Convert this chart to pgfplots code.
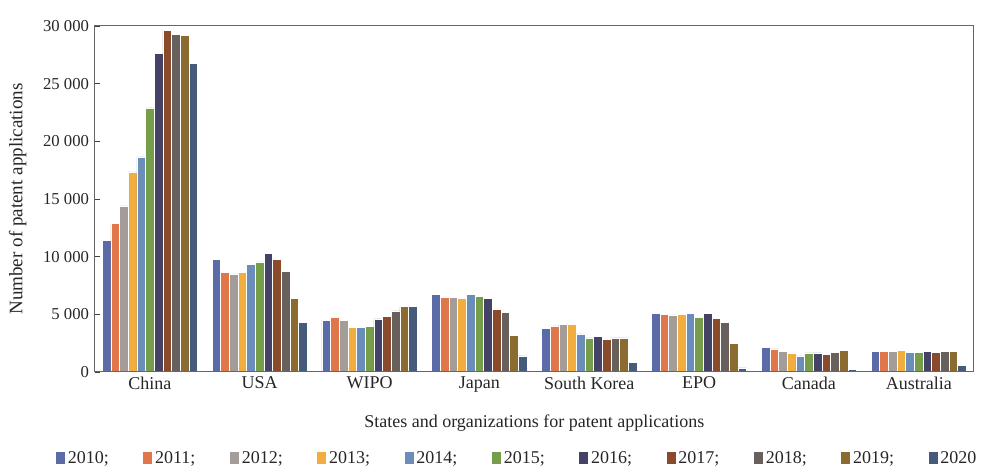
\documentclass[border=0pt]{standalone}
\usepackage{pgfplots}
\usepackage{pgfplotstable}
\pgfplotsset{compat=1.18}
\usepackage{fontspec}
\setmainfont{Liberation Serif}
\definecolor{c2010}{HTML}{5B6BA8}
\definecolor{c2011}{HTML}{E0774A}
\definecolor{c2012}{HTML}{A39C99}
\definecolor{c2013}{HTML}{F1AD3F}
\definecolor{c2014}{HTML}{6B8DB9}
\definecolor{c2015}{HTML}{769D4A}
\definecolor{c2016}{HTML}{444266}
\definecolor{c2017}{HTML}{8A4B2D}
\definecolor{c2018}{HTML}{67605C}
\definecolor{c2019}{HTML}{8B6B2F}
\definecolor{c2020}{HTML}{465B7C}
\pgfplotstableread{
x y2010 y2011 y2012 y2013 y2014 y2015 y2016 y2017 y2018 y2019 y2020
0 11400 12850 14400 17350 18650 22900 27650 29600 29300 29150 26750
1 9750 8650 8500 8650 9300 9550 10300 9750 8700 6400 4300
2 4500 4750 4450 3850 3900 3950 4600 4850 5300 5650 5650
3 6750 6500 6450 6350 6700 6550 6400 5450 5200 3200 1400
4 3750 4000 4150 4100 3300 2950 3100 2850 2950 2950 800
5 5050 5000 4950 5000 5050 4750 5100 4650 4300 2500 350
6 2100 2000 1800 1600 1400 1650 1650 1500 1700 1900 250
7 1800 1800 1800 1900 1700 1700 1800 1700 1750 1750 600
}\data
\begin{document}
\begin{tikzpicture}
\useasboundingbox (-71.25pt,-70.5pt) rectangle (667.5pt,279pt);
\begin{axis}[
  at={(0,0)}, anchor=south west,
  scale only axis, width=659pt, height=259.5pt,
  axis on top,
  ybar=0pt, bar width=0.0788,
  xmin=-0.5, xmax=7.5, ymin=0, ymax=30000,
  xtick={0,...,7},
  xticklabels={China,USA,WIPO,Japan,South Korea,EPO,Canada,Australia},
  ytick={0,5000,...,30000},
  ytick pos=left, tick align=inside,
  major tick length=3.75pt,
  x tick style={draw=none},
  y tick style={black!75, line width=0.6pt},
  axis line style={black!60, line width=0.75pt},
  scaled y ticks=false,
  /pgf/number format/assume math mode=true,
  /pgf/number format/1000 sep={\hspace{0.25em}},
  tick label style={font=\fontsize{12.5}{14}\selectfont, black!85},
  xticklabel style={font=\fontsize{13.5}{15}\selectfont},
  yticklabel style={xshift=-1pt},
  xlabel={States and organizations for patent applications},
  ylabel={Number of patent applications},
  label style={font=\fontsize{13.5}{15}\selectfont, black!85},
  ylabel style={font=\fontsize{14.3}{16}\selectfont},
  xlabel style={at={(axis description cs:0.5,-0.147)}, anchor=center},
  ylabel style={at={(axis description cs:-0.088,0.5)}, anchor=center},
  legend style={at={(0.481,-0.249)}, anchor=center, draw=none, fill=none,
    font=\fontsize{13.5}{15}\selectfont, legend columns=-1, text=black!85,
    /tikz/every even column/.append style={column sep=24pt}},
  legend image code/.code={\fill[#1,draw=none] (0pt,-4.5pt) rectangle (6.75pt,4.5pt);},
  every axis plot/.append style={draw=white, line width=0.5pt},
]
\addplot[fill=c2010] table[x=x,y=y2010]{\data};
\addplot[fill=c2011] table[x=x,y=y2011]{\data};
\addplot[fill=c2012] table[x=x,y=y2012]{\data};
\addplot[fill=c2013] table[x=x,y=y2013]{\data};
\addplot[fill=c2014] table[x=x,y=y2014]{\data};
\addplot[fill=c2015] table[x=x,y=y2015]{\data};
\addplot[fill=c2016] table[x=x,y=y2016]{\data};
\addplot[fill=c2017] table[x=x,y=y2017]{\data};
\addplot[fill=c2018] table[x=x,y=y2018]{\data};
\addplot[fill=c2019] table[x=x,y=y2019]{\data};
\addplot[fill=c2020] table[x=x,y=y2020]{\data};
\legend{2010;,2011;,2012;,2013;,2014;,2015;,2016;,2017;,2018;,2019;,2020}
\end{axis}
\end{tikzpicture}
\end{document}
